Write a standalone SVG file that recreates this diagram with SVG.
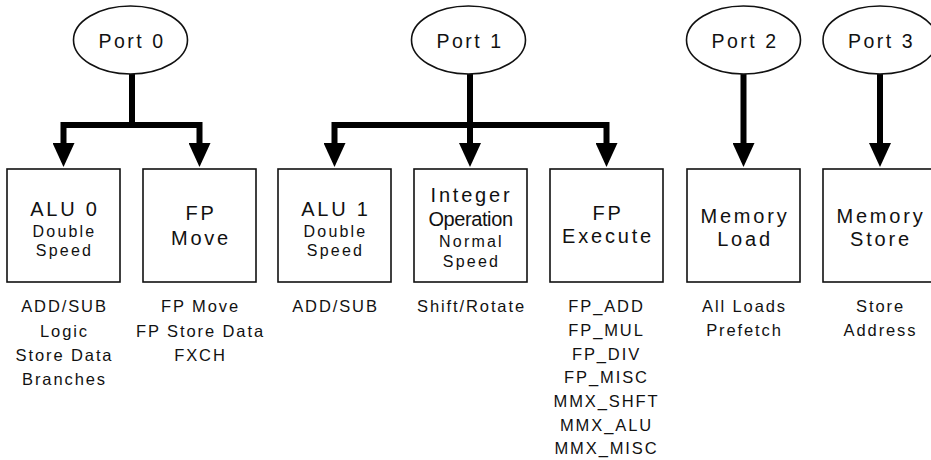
<svg xmlns="http://www.w3.org/2000/svg" width="931" height="460" viewBox="0 0 931 460">
<style>
text{font-family:"Liberation Sans",Arial,sans-serif;fill:#111;text-anchor:middle}
.port{font-size:19.5px;letter-spacing:2.5px}
.title{font-size:20px;letter-spacing:2.8px}
.cond{font-size:20px;letter-spacing:-0.4px}
.sub{font-size:16px;letter-spacing:2.2px}
.lbl{font-size:16.5px;letter-spacing:1.9px}
.box{fill:#fff;stroke:#111;stroke-width:1.6}
.ell{fill:#fff;stroke:#111;stroke-width:1.6}
.conn{fill:none;stroke:#000;stroke-width:6;stroke-linejoin:miter}
</style>
<defs>
<marker id="arr" markerUnits="userSpaceOnUse" viewBox="0 0 24 22" refX="0" refY="11" markerWidth="24" markerHeight="22" orient="auto">
<path d="M0,0 L24,11 L0,22 z" fill="#000"/>
</marker>
</defs>
<g id="connectors">
<path class="conn" d="M132,74 V125"/>
<path class="conn" d="M132,125 H63.5 V143" marker-end="url(#arr)"/>
<path class="conn" d="M132,125 H199.5 V143" marker-end="url(#arr)"/>
<path class="conn" d="M470,74 V143" marker-end="url(#arr)"/>
<path class="conn" d="M470,125 H334.5 V143" marker-end="url(#arr)"/>
<path class="conn" d="M470,125 H606.5 V143" marker-end="url(#arr)"/>
<path class="conn" d="M743.5,74 V143" marker-end="url(#arr)"/>
<path class="conn" d="M880,74 V143" marker-end="url(#arr)"/>
</g>
<g id="port0"><ellipse class="ell" cx="130.5" cy="40" rx="57" ry="34"/><text class="port" x="132" y="48">Port 0</text></g>
<g id="port1"><ellipse class="ell" cx="468.5" cy="40" rx="57" ry="34"/><text class="port" x="470" y="48">Port 1</text></g>
<g id="port2"><ellipse class="ell" cx="743.5" cy="40" rx="57" ry="34"/><text class="port" x="745" y="48">Port 2</text></g>
<g id="port3"><ellipse class="ell" cx="880" cy="40" rx="57" ry="34"/><text class="port" x="881.5" y="48">Port 3</text></g>
<g id="alu0">
<rect class="box" x="7" y="169" width="113" height="113"/>
<text class="title" x="65" y="216">ALU 0</text>
<text class="sub" x="64.5" y="237">Double</text>
<text class="sub" x="64.5" y="256">Speed</text>
<text class="lbl" x="64.5" y="312">ADD/SUB</text>
<text class="lbl" x="64.5" y="336.5">Logic</text>
<text class="lbl" x="64.5" y="361">Store Data</text>
<text class="lbl" x="64.5" y="385">Branches</text>
</g>
<g id="fpmove">
<rect class="box" x="143" y="169" width="113" height="113"/>
<text class="title" x="201" y="220">FP</text>
<text class="title" x="201" y="245">Move</text>
<text class="lbl" x="200.5" y="312">FP Move</text>
<text class="lbl" x="200.5" y="337">FP Store Data</text>
<text class="lbl" x="200.5" y="361">FXCH</text>
</g>
<g id="alu1">
<rect class="box" x="278" y="169" width="113" height="113"/>
<text class="title" x="336" y="216">ALU 1</text>
<text class="sub" x="335.5" y="237">Double</text>
<text class="sub" x="335.5" y="256">Speed</text>
<text class="lbl" x="335.5" y="312">ADD/SUB</text>
</g>
<g id="intop">
<rect class="box" x="414" y="169" width="113" height="113"/>
<text class="title" x="471.5" y="202">Integer</text>
<text class="cond" x="470.5" y="226">Operation</text>
<text class="sub" x="471.5" y="247">Normal</text>
<text class="sub" x="471.5" y="267">Speed</text>
<text class="lbl" x="471.5" y="312">Shift/Rotate</text>
</g>
<g id="fpexec">
<rect class="box" x="550" y="169" width="113" height="113"/>
<text class="title" x="608" y="220">FP</text>
<text class="title" x="608" y="243">Execute</text>
<text class="lbl" x="606.5" y="312">FP_ADD</text>
<text class="lbl" x="606.5" y="336">FP_MUL</text>
<text class="lbl" x="606.5" y="359.5">FP_DIV</text>
<text class="lbl" x="606.5" y="383">FP_MISC</text>
<text class="lbl" x="606.5" y="407">MMX_SHFT</text>
<text class="lbl" x="606.5" y="430.5">MMX_ALU</text>
<text class="lbl" x="606.5" y="454">MMX_MISC</text>
</g>
<g id="memload">
<rect class="box" x="687" y="169" width="113" height="113"/>
<text class="title" x="745" y="223">Memory</text>
<text class="title" x="745" y="246">Load</text>
<text class="lbl" x="744.5" y="312">All Loads</text>
<text class="lbl" x="744.5" y="336">Prefetch</text>
</g>
<g id="memstore">
<rect class="box" x="823" y="169" width="113" height="113"/>
<text class="title" x="881" y="223">Memory</text>
<text class="title" x="881" y="246">Store</text>
<text class="lbl" x="880.5" y="312">Store</text>
<text class="lbl" x="880.5" y="336">Address</text>
</g>
</svg>
